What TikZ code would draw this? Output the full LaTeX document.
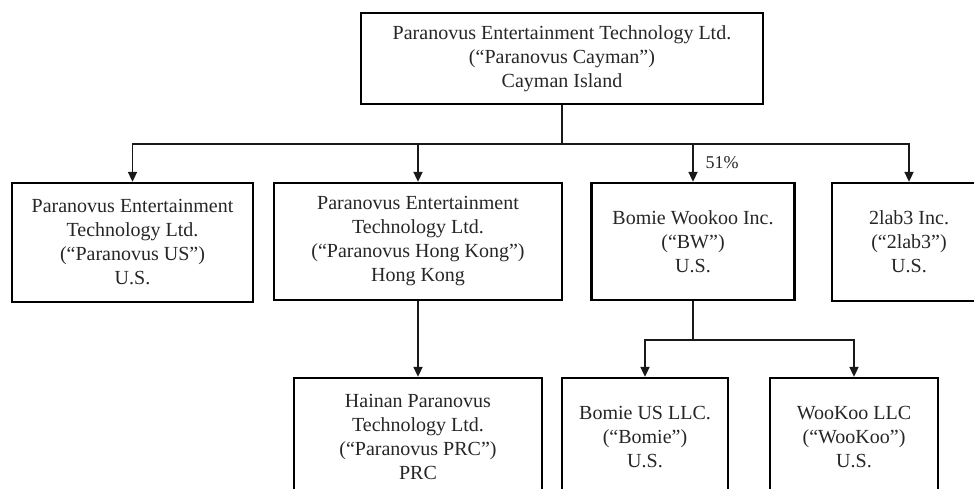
\documentclass[tikz,border=0pt]{standalone}
\usepackage{fontspec}
\setmainfont{Liberation Serif}
\usetikzlibrary{arrows.meta}
\begin{document}
\begin{tikzpicture}[x=1pt,y=-1pt,
  entity/.style={draw=black, line width=2.3pt, rectangle, align=center, inner sep=0pt,
    font=\fontsize{20}{24}\selectfont, text=black!85},
  link/.style={line width=1.7pt, draw=black!90},
  arr/.style={link, -{Triangle[length=10pt,width=9pt]}}]
\useasboundingbox (0,0) rectangle (974,488);
\clip (0,0) rectangle (974,488);
\node[entity, minimum width=402pt, minimum height=91pt] (top) at (562,58.5)
  {\rule{0pt}{6pt}Paranovus Entertainment Technology Ltd.\\(``Paranovus Cayman'')\\Cayman Island};
\node[entity, minimum width=241pt, minimum height=119pt] (b1) at (132.5,242.5)
  {Paranovus Entertainment\\Technology Ltd.\\(``Paranovus US'')\\U.S.};
\node[entity, minimum width=288pt, minimum height=117pt] (b2) at (418,241.5)
  {Paranovus Entertainment\\Technology Ltd.\\(``Paranovus Hong Kong'')\\Hong Kong};
\node[entity, minimum width=203pt, minimum height=117pt] (b3) at (693,241.5)
  {Bomie Wookoo Inc.\\(``BW'')\\U.S.};
\node[entity, minimum width=154pt, minimum height=118pt] (b4) at (909,242)
  {2lab3 Inc.\\(``2lab3'')\\U.S.};
\node[entity, minimum width=248pt, minimum height=118pt] (b5) at (418,437)
  {Hainan Paranovus\\Technology Ltd.\\(``Paranovus PRC'')\\PRC};
\node[entity, minimum width=166pt, minimum height=118pt] (b6) at (645,437)
  {Bomie US LLC.\\(``Bomie'')\\U.S.};
\node[entity, minimum width=168pt, minimum height=118pt] (b7) at (854,437)
  {WooKoo LLC\\(``WooKoo'')\\U.S.};
\node[font=\fontsize{18}{21}\selectfont, text=black!85, inner sep=0pt] (pct) at (722,163) {51\%};
\coordinate (j1) at (562,144);
\coordinate (j2) at (693,340);
\draw[link] (top.south) -- (j1);
\draw[arr] (j1) -| (b1.north);
\draw[arr] (j1) -| (b4.north);
\draw[arr] (b2.north |- j1) -- (b2.north);
\draw[arr] (b3.north |- j1) -- (b3.north);
\draw[arr] (b2.south) -- (b5.north);
\draw[link] (b3.south) -- (j2);
\draw[arr] (j2) -| (b6.north);
\draw[arr] (j2) -| (b7.north);
\end{tikzpicture}
\end{document}
